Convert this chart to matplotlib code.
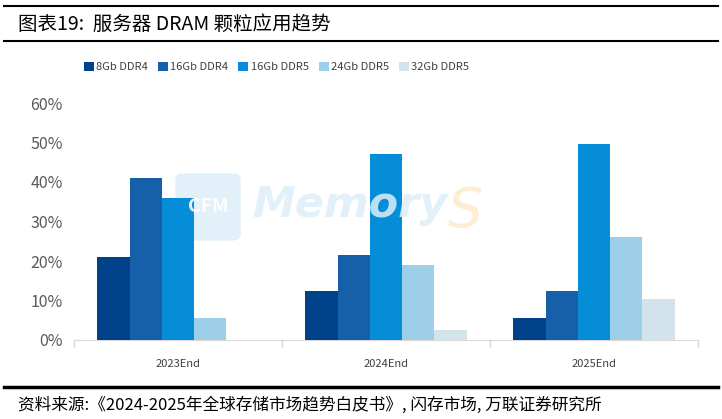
import numpy as np
import matplotlib
matplotlib.use("Agg")
from matplotlib import pyplot as plt
from matplotlib.patches import FancyBboxPatch
from matplotlib.lines import Line2D

plt.rcParams['font.family'] = ['Noto Sans CJK SC', 'DejaVu Sans']

# data
categories = ['2023End', '2024End', '2025End']
series_names = ['8Gb DDR4', '16Gb DDR4', '16Gb DDR5', '24Gb DDR5', '32Gb DDR5']
share_8gb_ddr4 = [21, 12.5, 5.5]
share_16gb_ddr4 = [41, 21.5, 12.5]
share_16gb_ddr5 = [36, 47, 49.5]
share_24gb_ddr5 = [5.5, 19, 26]
share_32gb_ddr5 = [0, 2.5, 10.5]
yticks = [0, 10, 20, 30, 40, 50, 60]

series = [share_8gb_ddr4, share_16gb_ddr4, share_16gb_ddr5, share_24gb_ddr5, share_32gb_ddr5]
colors = ['#00428A', '#1560A8', '#058DD8', '#9ECFE8', '#D3E3EC']

fig = plt.figure(figsize=(7.22, 4.19), dpi=100)
ax = fig.add_axes([74 / 722, 1 - 340 / 419, (698 - 74) / 722, (340 - 103) / 419])

x = np.arange(len(categories))
width = 0.155
for i, (vals, c) in enumerate(zip(series, colors)):
    ax.bar(x + (i - 2) * width, vals, width, color=c, label=series_names[i], zorder=3)

ax.set_xlim(-0.5, 2.5)
ax.set_ylim(0, 60)
ax.set_yticks(yticks)
ax.set_yticklabels([f'{v}%' for v in yticks], fontsize=11.5, color='#595959')
ax.set_xticks(x)
ax.set_xticklabels(categories, fontsize=8, color='#404040')
ax.tick_params(axis='y', length=0, pad=8)
ax.tick_params(axis='x', length=0, pad=14)
for s in ['top', 'right', 'left']:
    ax.spines[s].set_visible(False)
ax.spines['bottom'].set_color('#D9D9D9')
# category separator ticks
for b in [-0.5, 0.5, 1.5, 2.5]:
    ax.plot([b, b], [0, -1.7], color='#D9D9D9', lw=1, clip_on=False)

# watermark
wm = FancyBboxPatch((176 / 722, 1 - 240 / 419), 64 / 722, 66 / 419,
                    boxstyle='round,pad=0,rounding_size=0.012',
                    transform=fig.transFigure, color='#DCEEF9', alpha=0.85, zorder=1)
fig.patches.append(wm)
fig.text(208 / 722, 1 - 207 / 419, 'CFM', fontsize=14, color='white', ha='center',
         va='center', fontweight='bold', alpha=0.9)
fig.text(252 / 722, 1 - 205 / 419, 'Memory', fontsize=31, color='#DCEEF9', ha='left',
         va='center', fontweight='bold', style='italic', alpha=0.85, family='DejaVu Sans')
fig.text(448 / 722, 1 - 212 / 419, 'S', fontsize=40, color='#FCEBCF', ha='left',
         va='center', style='italic', alpha=0.9, family='DejaVu Sans')
ax.set_zorder(2)
ax.patch.set_alpha(0)

# legend
leg = fig.legend(loc='center', bbox_to_anchor=(0.383, 1 - 67 / 419), ncol=5, frameon=False,
                 fontsize=8, handlelength=0.9, handleheight=0.9, handletextpad=0.2,
                 columnspacing=0.9, labelcolor='#404040')

# title and rules
fig.text(18 / 722, 1 - 24 / 419, '图表19:  服务器 DRAM 颗粒应用趋势', fontsize=14,
         color='black', ha='left', va='center')
fig.add_artist(Line2D([4 / 722, 718 / 722], [1 - 6 / 419] * 2, color='black', lw=1.5))
fig.add_artist(Line2D([4 / 722, 718 / 722], [1 - 41 / 419] * 2, color='black', lw=1.5))
fig.add_artist(Line2D([4 / 722, 718 / 722], [1 - 387 / 419] * 2, color='black', lw=2.5))
fig.text(18 / 722, 1 - 405 / 419,
         '资料来源:《2024-2025年全球存储市场趋势白皮书》, 闪存市场, 万联证券研究所',
         fontsize=12, style='italic', color='black', ha='left', va='center')

fig.savefig('out.png', dpi=100)
